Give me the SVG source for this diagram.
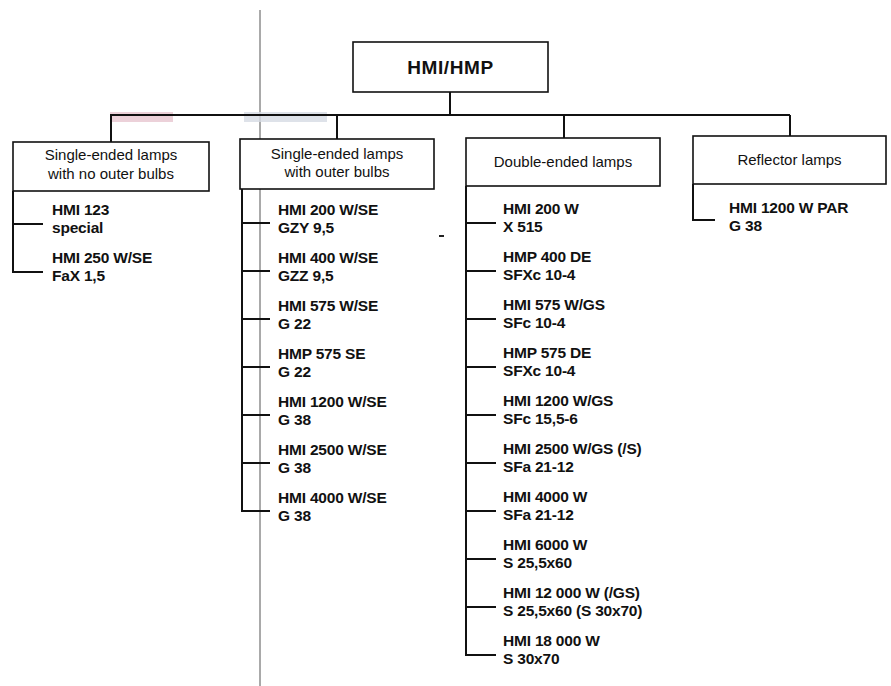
<svg xmlns="http://www.w3.org/2000/svg" width="891" height="686" viewBox="0 0 891 686">
<style>
.box{fill:#fff;stroke:#111;stroke-width:1.6}
.ln{stroke:#111;stroke-width:2;fill:none}
.cat{font-family:"Liberation Sans",Arial,sans-serif;font-size:15px;fill:#111;text-anchor:middle}
.it{font-family:"Liberation Sans",Arial,sans-serif;font-size:15.5px;font-weight:bold;fill:#111;letter-spacing:-0.2px}
.ttl{font-family:"Liberation Sans",Arial,sans-serif;font-size:19px;font-weight:bold;fill:#111;text-anchor:middle;letter-spacing:0.6px}
</style>
<rect width="891" height="686" fill="#fff"/>
<!-- scan artifacts -->
<line x1="260" y1="10" x2="260" y2="686" stroke="#555" stroke-width="1"/>
<rect x="110" y="112" width="63" height="10" fill="#e7c6cf" opacity="0.8"/>
<rect x="244" y="112" width="83" height="10" fill="#d6dbe3" opacity="0.8"/>
<line x1="439" y1="236" x2="444" y2="236" stroke="#222" stroke-width="2"/>

<g id="connectors" class="ln">
  <line x1="450" y1="92" x2="450" y2="115"/>
  <line x1="110" y1="115" x2="790" y2="115"/>
  <line x1="111" y1="115" x2="111" y2="142"/>
  <line x1="337" y1="115" x2="337" y2="139"/>
  <line x1="564" y1="115" x2="564" y2="138"/>
  <line x1="790" y1="115" x2="790" y2="136"/>
  <!-- column 1 -->
  <polyline points="13,191 13,272 43,272"/>
  <line x1="13" y1="224" x2="43" y2="224"/>
  <!-- column 2 -->
  <polyline points="242,189 242,511 270,511"/>
  <line x1="242" y1="223" x2="270" y2="223"/>
  <line x1="242" y1="271" x2="270" y2="271"/>
  <line x1="242" y1="319" x2="270" y2="319"/>
  <line x1="242" y1="367" x2="270" y2="367"/>
  <line x1="242" y1="415" x2="270" y2="415"/>
  <line x1="242" y1="463" x2="270" y2="463"/>
  <!-- column 3 -->
  <polyline points="466,186 466,655 496,655"/>
  <line x1="466" y1="223" x2="496" y2="223"/>
  <line x1="466" y1="271" x2="496" y2="271"/>
  <line x1="466" y1="319" x2="496" y2="319"/>
  <line x1="466" y1="367" x2="496" y2="367"/>
  <line x1="466" y1="415" x2="496" y2="415"/>
  <line x1="466" y1="463" x2="496" y2="463"/>
  <line x1="466" y1="511" x2="496" y2="511"/>
  <line x1="466" y1="559" x2="496" y2="559"/>
  <line x1="466" y1="607" x2="496" y2="607"/>
  <!-- column 4 -->
  <polyline points="693,184 693,220 715,220"/>
</g>

<g id="root">
  <rect class="box" x="353" y="42" width="195" height="50" stroke-width="2"/>
  <text class="ttl" x="450.5" y="74">HMI/HMP</text>
</g>

<g id="cat1">
  <rect class="box" x="13" y="142" width="196" height="49"/>
  <text class="cat" x="111" y="160">Single-ended lamps</text>
  <text class="cat" x="111" y="179">with no outer bulbs</text>
</g>
<g id="cat2">
  <rect class="box" x="240" y="139" width="194" height="50"/>
  <text class="cat" x="337" y="159">Single-ended lamps</text>
  <text class="cat" x="337" y="177">with outer bulbs</text>
</g>
<g id="cat3">
  <rect class="box" x="466" y="138" width="194" height="48"/>
  <text class="cat" x="563" y="167">Double-ended lamps</text>
</g>
<g id="cat4">
  <rect class="box" x="693" y="136" width="193" height="48"/>
  <text class="cat" x="789.5" y="165">Reflector lamps</text>
</g>

<g id="col1-items" class="it">
  <g id="hmi123"><text x="52" y="215">HMI 123</text><text x="52" y="233">special</text></g>
  <g id="hmi250se"><text x="52" y="263">HMI 250 W/SE</text><text x="52" y="281">FaX 1,5</text></g>
</g>

<g id="col2-items" class="it">
  <g id="hmi200se"><text x="278" y="215">HMI 200 W/SE</text><text x="278" y="233">GZY 9,5</text></g>
  <g id="hmi400se"><text x="278" y="263">HMI 400 W/SE</text><text x="278" y="281">GZZ 9,5</text></g>
  <g id="hmi575se"><text x="278" y="311">HMI 575 W/SE</text><text x="278" y="329">G 22</text></g>
  <g id="hmp575se"><text x="278" y="359">HMP 575 SE</text><text x="278" y="377">G 22</text></g>
  <g id="hmi1200se"><text x="278" y="407">HMI 1200 W/SE</text><text x="278" y="425">G 38</text></g>
  <g id="hmi2500se"><text x="278" y="455">HMI 2500 W/SE</text><text x="278" y="473">G 38</text></g>
  <g id="hmi4000se"><text x="278" y="503">HMI 4000 W/SE</text><text x="278" y="521">G 38</text></g>
</g>

<g id="col3-items" class="it">
  <g id="hmi200"><text x="503" y="214">HMI 200 W</text><text x="503" y="232">X 515</text></g>
  <g id="hmp400de"><text x="503" y="262">HMP 400 DE</text><text x="503" y="280">SFXc 10-4</text></g>
  <g id="hmi575gs"><text x="503" y="310">HMI 575 W/GS</text><text x="503" y="328">SFc 10-4</text></g>
  <g id="hmp575de"><text x="503" y="358">HMP 575 DE</text><text x="503" y="376">SFXc 10-4</text></g>
  <g id="hmi1200gs"><text x="503" y="406">HMI 1200 W/GS</text><text x="503" y="424">SFc 15,5-6</text></g>
  <g id="hmi2500gs"><text x="503" y="454">HMI 2500 W/GS (/S)</text><text x="503" y="472">SFa 21-12</text></g>
  <g id="hmi4000"><text x="503" y="502">HMI 4000 W</text><text x="503" y="520">SFa 21-12</text></g>
  <g id="hmi6000"><text x="503" y="550">HMI 6000 W</text><text x="503" y="568">S 25,5x60</text></g>
  <g id="hmi12000"><text x="503" y="598">HMI 12 000 W (/GS)</text><text x="503" y="616">S 25,5x60 (S 30x70)</text></g>
  <g id="hmi18000"><text x="503" y="646">HMI 18 000 W</text><text x="503" y="664">S 30x70</text></g>
</g>

<g id="col4-items" class="it">
  <g id="hmi1200par"><text x="729" y="213">HMI 1200 W PAR</text><text x="729" y="231">G 38</text></g>
</g>
</svg>
